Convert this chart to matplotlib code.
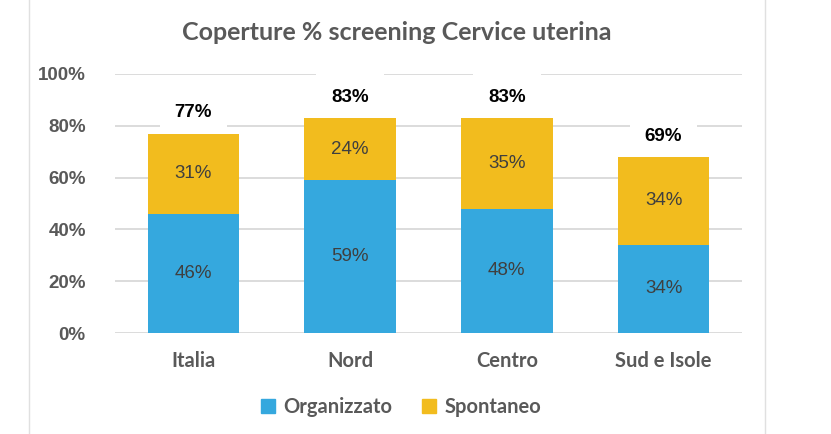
import matplotlib
matplotlib.use("Agg")
import matplotlib.pyplot as plt
import numpy as np
from matplotlib.patches import Patch

# data
categories = ["Italia", "Nord", "Centro", "Sud e Isole"]
organizzato = [46, 59, 48, 34]
spontaneo = [31, 24, 35, 34]
totale = [77, 83, 83, 69]
yticks = [0, 20, 40, 60, 80, 100]

blue = "#35a8de"
yellow = "#f2bc1e"
grey = "#595959"

fig = plt.figure(figsize=(8.31, 4.34), dpi=100)
fig.patch.set_facecolor("white")
ax = fig.add_axes([115/831, (434-333)/434, (742-115)/831, (333-74)/434])
ax.set_axisbelow(True)

x = np.arange(len(categories))
w = 0.585
ax.bar(x, organizzato, w, color=blue, zorder=2)
ax.bar(x, spontaneo, w, bottom=organizzato, color=yellow, zorder=2)

ax.set_xlim(-0.5, 3.5)
ax.set_ylim(0, 100)
ax.set_yticks(yticks)
ax.set_yticklabels([f"{v}%" for v in yticks], fontsize=13.5, color=grey,
                   fontweight="bold", family="Liberation Sans")
ax.set_xticks(x)
ax.set_xticklabels(categories, fontsize=14.5, color=grey, fontweight="bold", family="Lato")
ax.tick_params(length=0)
ax.tick_params(axis="y", pad=21)
ax.tick_params(axis="x", pad=13)
ax.grid(axis="y", color="#d9d9d9", linewidth=1.3)
for s in ax.spines.values():
    s.set_visible(False)

# labels inside bars
for i in range(len(categories)):
    ax.text(x[i], organizzato[i] / 2, f"{organizzato[i]}%", ha="center", va="center",
            fontsize=13.5, color="#3f3f3f", family="Liberation Sans", zorder=3)
    ax.text(x[i], organizzato[i] + spontaneo[i] / 2, f"{spontaneo[i]}%", ha="center",
            va="center", fontsize=13.5, color="#3f3f3f", family="Liberation Sans", zorder=3)
    top = organizzato[i] + spontaneo[i]
    ax.annotate(f"{totale[i]}%", (x[i], top), xytext=(0, 15), textcoords="offset points",
                ha="center", va="center", fontsize=13.5, fontweight="bold", color="black",
                family="Liberation Sans", zorder=1.7,
                bbox=dict(boxstyle="square,pad=0.8", facecolor="white", edgecolor="none"))

fig.text(397/831, 1 - 32/434, "Coperture % screening Cervice uterina", ha="center", va="center",
         fontsize=18, fontweight="bold", color=grey, family="Lato")

handles = [Patch(color=blue, label="Organizzato"), Patch(color=yellow, label="Spontaneo")]
fig.legend(handles=handles, loc="center", bbox_to_anchor=(401/831, 1 - 407/434), ncol=2,
           frameon=False, prop={"family": "Lato", "weight": "bold", "size": 14.5},
           labelcolor=grey, handlelength=0.7, handleheight=0.7, handletextpad=0.4,
           columnspacing=1.5)

# frame lines of the chart area
fig.add_artist(plt.Line2D([29/831, 29/831], [0, 1], color="#e0e0e0", linewidth=1))
fig.add_artist(plt.Line2D([765/831, 765/831], [0, 1], color="#e0e0e0", linewidth=1))

fig.savefig("out.png", dpi=100, facecolor="white")
